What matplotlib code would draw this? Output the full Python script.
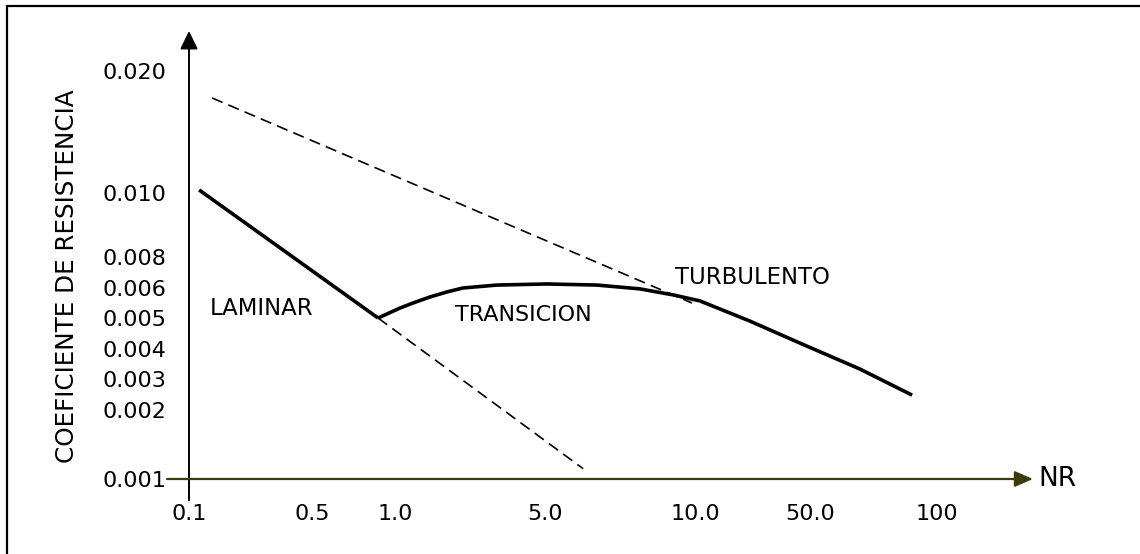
import numpy as np
import matplotlib
matplotlib.use("Agg")
import matplotlib.pyplot as plt
from matplotlib.patches import Rectangle

# axis tick values and their labels
nr_ticks = [0.1, 0.5, 1.0, 5.0, 10.0, 50.0, 100.0]
nr_labels = ["0.1", "0.5", "1.0", "5.0", "10.0", "50.0", "100"]
cf_ticks = [0.001, 0.002, 0.003, 0.004, 0.005, 0.006, 0.008, 0.010, 0.020]
cf_labels = ["0.001", "0.002", "0.003", "0.004", "0.005", "0.006", "0.008", "0.010", "0.020"]

# laminar branch (solid) and its extension (dashed)
laminar_nr = [0.133, 0.898]
laminar_cf = [0.01025, 0.0050]
laminar_ext_nr = [0.898, 6.27]
laminar_ext_cf = [0.0050, 0.00115]

# turbulent asymptote (dashed)
turb_nr = [0.175, 9.9]
turb_cf = [0.01779, 0.0055]

# transition + turbulent curve
curve_nr = [0.898, 1.13, 1.48, 1.93, 2.39, 2.81, 3.72, 5.07, 6.73, 8.17, 9.27,
            11.7, 29.1, 46.5, 69.7, 90.2]
curve_cf = [0.0050, 0.00533, 0.0055, 0.0057, 0.00587, 0.0060, 0.00619, 0.00626,
            0.00619, 0.00597, 0.00577, 0.00557, 0.0049, 0.00419, 0.00333, 0.00248]

# schematic axis: uneven spacing between the labelled values
x_spacing = [0, 123, 206, 356, 506, 621, 748]
y_spacing = [0, 69, 100, 130, 161, 191, 222, 286, 408]

plt.rcParams["font.family"] = ["DejaVu Sans"]

W, H = 1140, 554
fig = plt.figure(figsize=(W / 100, H / 100), dpi=100)
ax = fig.add_axes([189 / W, (H - 479) / H, 748 / W, 408 / H])

ax.set_xscale("function", functions=(lambda v: np.interp(v, nr_ticks, x_spacing),
                                     lambda u: np.interp(u, x_spacing, nr_ticks)))
ax.set_yscale("function", functions=(lambda v: np.interp(v, cf_ticks, y_spacing),
                                     lambda u: np.interp(u, y_spacing, cf_ticks)))
ax.set_xlim(nr_ticks[0], nr_ticks[-1])
ax.set_ylim(cf_ticks[0], cf_ticks[-1])

dash = (0, (6.8, 3.8))
ax.plot(turb_nr, turb_cf, color="black", lw=1.2, linestyle=dash, clip_on=False)
ax.plot(laminar_ext_nr, laminar_ext_cf, color="black", lw=1.2, linestyle=dash, clip_on=False)
ax.plot(laminar_nr, laminar_cf, color="black", lw=2.6, solid_capstyle="butt", clip_on=False)
ax.plot(curve_nr, curve_cf, color="black", lw=2.6, solid_joinstyle="round",
        solid_capstyle="butt", clip_on=False)

ax.set_xticks(nr_ticks)
ax.set_xticklabels(nr_labels)
ax.set_yticks(cf_ticks)
ax.set_yticklabels(cf_labels)
ax.minorticks_off()
ax.tick_params(axis="both", which="both", length=0, labelsize=16, colors="black")
ax.tick_params(axis="x", pad=18)
ax.tick_params(axis="y", pad=16)
for s in ax.spines.values():
    s.set_visible(False)
ax.patch.set_alpha(0)

# axis arrows
ax.annotate("", xy=(0, 1.098), xytext=(0, -0.052), xycoords="axes fraction",
            arrowprops=dict(arrowstyle="-|>,head_length=0.55,head_width=0.27",
                            mutation_scale=20, lw=1.4, color="black",
                            shrinkA=0, shrinkB=0))
ax.annotate("", xy=(1.1283, 0), xytext=(-0.0294, 0), xycoords="axes fraction",
            arrowprops=dict(arrowstyle="-|>,head_length=0.55,head_width=0.24",
                            mutation_scale=20, lw=1.6, color="#3d3a0c",
                            shrinkA=0, shrinkB=0))

ax.text(1.136, 0.0, "NR", transform=ax.transAxes, fontsize=19, ha="left", va="center")
ax.text(0.168, 0.00533, "LAMINAR", fontsize=16.4, ha="left", va="center")
ax.text(2.6, 0.0051, "TRANSICION", fontsize=16, ha="left", va="center")
ax.text(9.33, 0.00665, "TURBULENTO", fontsize=16.4, ha="left", va="center")

fig.text(67 / W, (H - 276) / H, "COEFICIENTE DE RESISTENCIA", rotation=90,
         fontsize=17.7, ha="center", va="center")

# frame around the drawing
fig.add_artist(Rectangle((7 / W, -0.1), 2.0, (H - 6) / H + 0.1, transform=fig.transFigure,
                         fill=False, edgecolor="black", lw=1.6, clip_on=False))

fig.savefig("out.png", dpi=100)
